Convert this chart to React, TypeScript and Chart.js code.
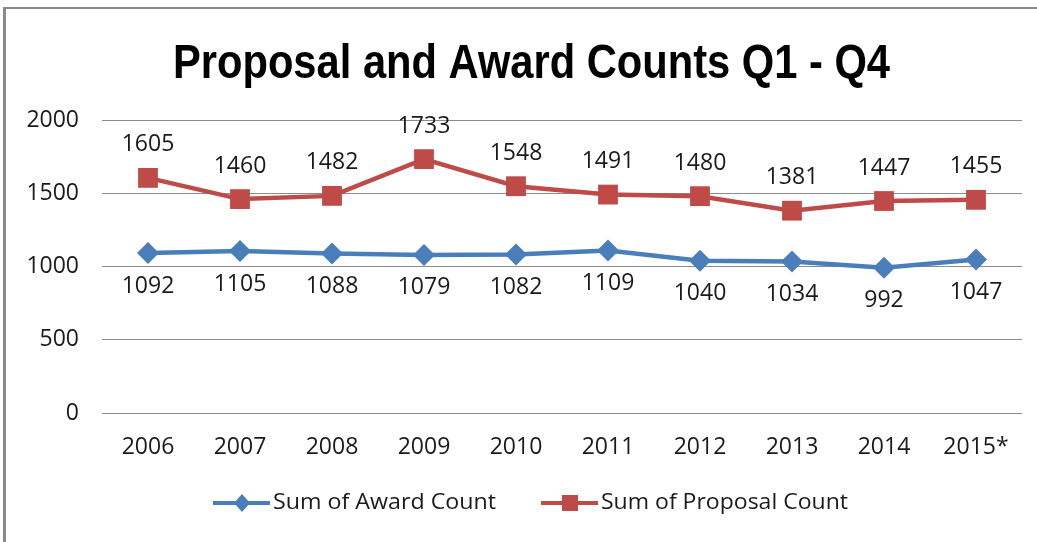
import React, { useEffect, useRef } from "react";
import { Chart, registerables } from "chart.js";

Chart.register(...registerables);

const categories = ["2006", "2007", "2008", "2009", "2010", "2011", "2012", "2013", "2014", "2015*"];
const awardCounts = [1092, 1105, 1088, 1079, 1082, 1109, 1040, 1034, 992, 1047];
const proposalCounts = [1605, 1460, 1482, 1733, 1548, 1491, 1480, 1381, 1447, 1455];
const yTicks = [0, 500, 1000, 1500, 2000];
const titleText = "Proposal and Award Counts Q1 - Q4";
const awardLabel = "Sum of Award Count";
const proposalLabel = "Sum of Proposal Count";

const BLUE = "#4A7EBB";
const RED = "#BE4B48";
const TEXT = "#1a1a1a";
const NUM_FONT = "23px 'Open Sans'";

function fitText(ctx: any, text: string, x: number, y: number, width: number) {
  const w = ctx.measureText(text).width;
  const s = width / w;
  ctx.save();
  ctx.translate(x, y);
  ctx.scale(s, 1);
  ctx.textAlign = "left";
  ctx.fillText(text, 0, 0);
  ctx.restore();
}

const decorPlugin = {
  id: "decor",
  beforeDraw(chart: any) {
    const ctx = chart.ctx;
    ctx.save();
    ctx.fillStyle = "#ffffff";
    ctx.fillRect(0, 0, chart.width, chart.height);
    ctx.fillStyle = "#8a8a8a";
    ctx.fillRect(3, 7, chart.width - 3, 2);
    ctx.fillRect(3, 7, 3, chart.height - 7);
    ctx.restore();
  },
  afterDraw(chart: any) {
    const ctx = chart.ctx;
    ctx.save();
    // title
    ctx.fillStyle = "#000";
    ctx.font = "bold 49px 'Liberation Sans'";
    ctx.textBaseline = "alphabetic";
    fitText(ctx, titleText, 173, 78, 717);
    // legend
    const ly = 503;
    ctx.font = "22px 'Open Sans'";
    ctx.textBaseline = "middle";
    // award
    ctx.strokeStyle = BLUE;
    ctx.lineWidth = 4;
    ctx.beginPath();
    ctx.moveTo(213, ly);
    ctx.lineTo(270, ly);
    ctx.stroke();
    ctx.fillStyle = BLUE;
    ctx.beginPath();
    ctx.moveTo(242, ly - 9);
    ctx.lineTo(250, ly);
    ctx.lineTo(242, ly + 9);
    ctx.lineTo(234, ly);
    ctx.closePath();
    ctx.fill();
    ctx.fillStyle = TEXT;
    fitText(ctx, awardLabel, 273, ly, 223);
    // proposal
    ctx.strokeStyle = RED;
    ctx.beginPath();
    ctx.moveTo(541, ly);
    ctx.lineTo(598, ly);
    ctx.stroke();
    ctx.fillStyle = RED;
    ctx.fillRect(562, ly - 8, 16, 16);
    ctx.fillStyle = TEXT;
    fitText(ctx, proposalLabel, 601, ly, 247);
    ctx.restore();
  },
  afterDatasetsDraw(chart: any) {
    const ctx = chart.ctx;
    ctx.save();
    ctx.font = NUM_FONT;
    ctx.fillStyle = TEXT;
    ctx.textAlign = "center";
    ctx.textBaseline = "middle";
    chart.data.datasets.forEach((ds: any, di: number) => {
      const meta = chart.getDatasetMeta(di);
      const offset = di === 0 ? 33 : -33;
      meta.data.forEach((pt: any, i: number) => {
        ctx.fillText(String(ds.data[i]), pt.x, pt.y + offset);
      });
    });
    ctx.restore();
  },
};

export default function App() {
  const ref = useRef<HTMLCanvasElement | null>(null);
  useEffect(() => {
    document.body.style.margin = "0";
    const canvas = ref.current;
    if (!canvas) return;
    const chart = new Chart(canvas, {
      type: "line",
      data: {
        labels: categories,
        datasets: [
          {
            label: awardLabel,
            data: awardCounts,
            borderColor: BLUE,
            backgroundColor: BLUE,
            borderWidth: 4.5,
            pointStyle: "rectRot",
            pointRadius: 11,
            pointHoverRadius: 11,
            pointBorderWidth: 0,
            tension: 0,
          },
          {
            label: proposalLabel,
            data: proposalCounts,
            borderColor: RED,
            backgroundColor: RED,
            borderWidth: 4.5,
            pointStyle: "rect",
            pointRadius: 14,
            pointHoverRadius: 14,
            pointBorderWidth: 0,
            tension: 0,
          },
        ],
      },
      options: {
        responsive: false,
        animation: false,
        events: [],
        layout: { padding: { top: 120, right: 15, left: 0, bottom: 0 } },
        plugins: {
          legend: { display: false },
          title: { display: false },
          tooltip: { enabled: false },
        },
        scales: {
          x: {
            offset: true,
            grid: { display: false, drawTicks: false },
            border: { display: false },
            ticks: {
              color: TEXT,
              font: { family: "'Open Sans'", size: 23 },
              padding: 21,
              maxRotation: 0,
              autoSkip: false,
            },
            afterFit(scale: any) {
              scale.height = 129;
            },
          },
          y: {
            min: 0,
            max: 2000,
            afterBuildTicks(scale: any) {
              scale.ticks = yTicks.map((v) => ({ value: v }));
            },
            grid: { color: "#8c8c8c", lineWidth: 1, drawTicks: false },
            border: { display: false },
            ticks: {
              color: TEXT,
              font: { family: "'Open Sans'", size: 23 },
              padding: 23,
              callback: (v: any) => String(v),
            },
            afterFit(scale: any) {
              scale.width = 102;
            },
          },
        },
      },
      plugins: [decorPlugin],
    });
    return () => chart.destroy();
  }, []);
  return (
    <div style={{ position: "absolute", left: 0, top: 0, width: 1037, height: 542 }}>
      <canvas ref={ref} width={1037} height={542} style={{ display: "block" }} />
    </div>
  );
}
